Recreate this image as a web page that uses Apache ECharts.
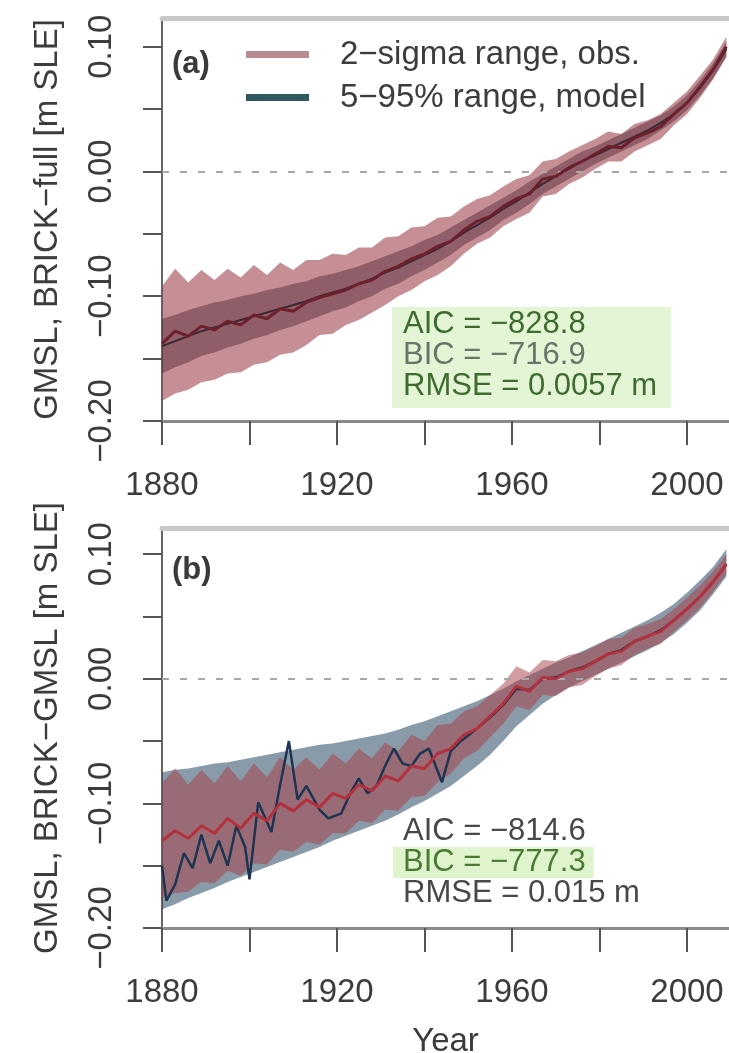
<!DOCTYPE html>
<html>
<head>
<meta charset="utf-8">
<script src="https://cdn.jsdelivr.net/npm/echarts@6/dist/echarts.min.js"></script>
<style>
  html, body { margin: 0; padding: 0; background: #fff; }
  #chart { width: 729px; height: 1053px; }
</style>
</head>
<body>
<div id="chart"></div>
<script>
// years of the observation / band series (3-year steps)
const years = [1880, 1883, 1886, 1889, 1892, 1895, 1898, 1901, 1904, 1907,
  1910, 1913, 1916, 1919, 1922, 1925, 1928, 1931, 1934, 1937,
  1940, 1943, 1946, 1949, 1952, 1955, 1958, 1961, 1964, 1967,
  1970, 1973, 1976, 1979, 1982, 1985, 1988, 1991, 1994, 1997,
  2000, 2003, 2006, 2009];

// panel (a): GMSL obs and BRICK-full model
const obsA = [-0.138, -0.128, -0.132, -0.124, -0.127, -0.120, -0.123, -0.115, -0.118, -0.110,
  -0.112, -0.105, -0.101, -0.098, -0.095, -0.090, -0.087, -0.080, -0.076, -0.070,
  -0.066, -0.060, -0.056, -0.047, -0.040, -0.036, -0.028, -0.022, -0.018, -0.006,
  -0.004, 0.003, 0.008, 0.014, 0.020, 0.019, 0.027, 0.031, 0.036, 0.046,
  0.055, 0.068, 0.082, 0.100];
const obsSigma = [0.046, 0.050, 0.043, 0.045, 0.040, 0.042, 0.038, 0.040, 0.035, 0.037,
  0.033, 0.034, 0.030, 0.032, 0.028, 0.029, 0.026, 0.027, 0.024, 0.025,
  0.022, 0.023, 0.020, 0.019, 0.018, 0.017, 0.016, 0.016, 0.015, 0.014,
  0.014, 0.013, 0.013, 0.012, 0.012, 0.011, 0.011, 0.010, 0.010, 0.009,
  0.009, 0.009, 0.008, 0.008];
const modelA = [-0.140, -0.136, -0.132, -0.128, -0.125, -0.122, -0.119, -0.116, -0.113, -0.110,
  -0.107, -0.104, -0.100, -0.097, -0.094, -0.090, -0.086, -0.081, -0.077, -0.072,
  -0.067, -0.062, -0.056, -0.049, -0.043, -0.037, -0.030, -0.024, -0.017, -0.010,
  -0.004, 0.002, 0.008, 0.013, 0.018, 0.023, 0.028, 0.033, 0.039, 0.046,
  0.055, 0.067, 0.081, 0.098];
const modelAHalf = [0.022, 0.021, 0.021, 0.020, 0.020, 0.019, 0.019, 0.018, 0.018, 0.017,
  0.017, 0.016, 0.016, 0.015, 0.015, 0.014, 0.014, 0.013, 0.013, 0.012,
  0.012, 0.011, 0.011, 0.010, 0.010, 0.010, 0.009, 0.009, 0.009, 0.008,
  0.008, 0.008, 0.008, 0.007, 0.007, 0.007, 0.007, 0.007, 0.006, 0.006,
  0.006, 0.006, 0.006, 0.006];

// panel (b): GMSL obs and BRICK-GMSL model
const obsB = [-0.130, -0.122, -0.128, -0.118, -0.124, -0.112, -0.120, -0.108, -0.114, -0.100,
  -0.106, -0.097, -0.103, -0.092, -0.096, -0.085, -0.090, -0.078, -0.082, -0.070,
  -0.072, -0.060, -0.056, -0.045, -0.040, -0.030, -0.020, -0.006, -0.010, 0.001,
  0.000, 0.006, 0.008, 0.014, 0.020, 0.022, 0.030, 0.034, 0.038, 0.047,
  0.056, 0.066, 0.078, 0.092];
const modelB = [-0.130, -0.127, -0.124, -0.121, -0.118, -0.115, -0.112, -0.109, -0.106, -0.103,
  -0.100, -0.097, -0.094, -0.091, -0.088, -0.085, -0.082, -0.079, -0.075, -0.070,
  -0.066, -0.061, -0.056, -0.050, -0.044, -0.037, -0.029, -0.020, -0.013, -0.006,
  0.000, 0.005, 0.010, 0.015, 0.020, 0.025, 0.030, 0.035, 0.041, 0.048,
  0.057, 0.067, 0.079, 0.093];
const modelBHalf = [0.055, 0.054, 0.052, 0.051, 0.050, 0.048, 0.047, 0.046, 0.045, 0.044,
  0.043, 0.042, 0.041, 0.039, 0.038, 0.037, 0.036, 0.035, 0.034, 0.033,
  0.032, 0.031, 0.030, 0.028, 0.026, 0.024, 0.021, 0.018, 0.016, 0.014,
  0.013, 0.012, 0.012, 0.012, 0.012, 0.012, 0.012, 0.012, 0.012, 0.012,
  0.012, 0.012, 0.011, 0.011];
const modelBYears = [1880, 1881, 1883, 1885, 1887, 1889, 1891, 1893, 1895, 1897,
  1899, 1900, 1902, 1905, 1907, 1909, 1911, 1913, 1916, 1918,
  1921, 1923, 1925, 1927, 1929, 1931, 1933, 1935, 1937, 1939,
  1941, 1944, 1946, 1948, 1952, 1955, 1958, 1961, 1964, 1967,
  1970, 1973, 1976, 1979, 1982, 1985, 1988, 1991, 1994, 1997,
  2000, 2003, 2006, 2009];
const modelBLine = [-0.150, -0.178, -0.165, -0.140, -0.152, -0.125, -0.148, -0.130, -0.150, -0.118,
  -0.135, -0.161, -0.099, -0.123, -0.085, -0.050, -0.097, -0.086, -0.105, -0.112,
  -0.108, -0.092, -0.080, -0.092, -0.086, -0.070, -0.056, -0.068, -0.070, -0.060,
  -0.056, -0.083, -0.058, -0.051, -0.040, -0.031, -0.021, -0.008, -0.009, 0.000,
  0.001, 0.006, 0.009, 0.014, 0.020, 0.023, 0.030, 0.034, 0.039, 0.047,
  0.056, 0.066, 0.078, 0.092];

// axis ticks
const yTicks = [-0.2, -0.15, -0.1, -0.05, 0, 0.05, 0.1];
const yLabels = [-0.2, -0.1, 0, 0.1];
const xTicks = [1880, 1900, 1920, 1940, 1960, 1980, 2000];
const xLabels = [1880, 1920, 1960, 2000];

const FONT = '"Liberation Sans", Arial, sans-serif';
const TXT = '#3c3c3c';
const X_MIN = 1880;
const X_MAX = 2009.6;

const chart = echarts.init(document.getElementById('chart'));

function pairs(xs, ys) {
  return xs.map((x, i) => [x, ys[i]]);
}

/* band polygon through the axis scales */
function band(name, gi, center, half, fill, z) {
  const data = years.map((yr, i) => [yr, center[i] - half[i], center[i] + half[i]]);
  return {
    type: 'custom',
    name,
    xAxisIndex: gi * 2,
    yAxisIndex: gi,
    z,
    silent: true,
    encode: { x: 0, y: [1, 2] },
    data,
    renderItem(params, api) {
      if (params.dataIndex !== 0) return null;
      const top = data.map((d) => api.coord([d[0], d[2]]));
      const bottom = data.map((d) => api.coord([d[0], d[1]])).reverse();
      return {
        type: 'polygon',
        shape: { points: top.concat(bottom) },
        style: { fill },
      };
    },
  };
}

function line(gi, data, color, width, z, withZero) {
  const s = {
    type: 'line',
    xAxisIndex: gi * 2,
    yAxisIndex: gi,
    data,
    z,
    silent: true,
    showSymbol: false,
    lineStyle: { color, width },
  };
  if (withZero) {
    s.markLine = {
      silent: true,
      symbol: 'none',
      label: { show: false },
      lineStyle: { color: '#a8a8a8', type: [7, 11], width: 2 },
      data: [{ yAxis: 0 }],
    };
  }
  return s;
}

function xAxes(gi, withName) {
  return [
    {
      type: 'value',
      gridIndex: gi,
      min: X_MIN,
      max: X_MAX,
      position: 'bottom',
      name: withName ? 'Year' : '',
      nameLocation: 'middle',
      nameGap: 97,
      nameTextStyle: { fontFamily: FONT, fontSize: 33, color: TXT },
      axisLine: { onZero: false, lineStyle: { color: '#8a8a8a', width: 3 } },
      axisTick: { customValues: xTicks, length: 24, lineStyle: { color: '#555', width: 2 } },
      axisLabel: {
        customValues: xLabels,
        margin: 48,
        fontFamily: FONT,
        fontSize: 33,
        color: TXT,
        formatter: (v) => String(v),
      },
      splitLine: { show: false },
    },
    {
      type: 'value',
      gridIndex: gi,
      min: X_MIN,
      max: X_MAX,
      position: 'top',
      axisLine: { onZero: false, lineStyle: { color: '#c8c8c8', width: 5 } },
      axisTick: { show: false },
      axisLabel: { show: false },
      splitLine: { show: false },
    },
  ];
}

function yAxis(gi, max, name) {
  return {
    type: 'value',
    gridIndex: gi,
    min: -0.2,
    max,
    name,
    nameLocation: 'middle',
    nameGap: 98,
    nameTextStyle: { fontFamily: FONT, fontSize: 33, color: TXT },
    axisLine: { onZero: false, lineStyle: { color: '#666', width: 2 } },
    axisTick: { customValues: yTicks, length: 19, lineStyle: { color: '#555', width: 2 } },
    axisLabel: {
      customValues: yLabels,
      rotate: 90,
      margin: 44,
      fontFamily: FONT,
      fontSize: 33,
      color: TXT,
      formatter: (v) => (v < -1e-9 ? '\u2212' : '') + Math.abs(v).toFixed(2),
    },
    splitLine: { show: false },
  };
}

const OBS_FILL = 'rgba(155, 62, 72, 0.58)';
const MOD_FILL_A = 'rgba(80, 35, 50, 0.45)';
const MOD_FILL_B = 'rgba(40, 72, 98, 0.55)';

chart.setOption({
  animation: false,
  textStyle: { fontFamily: FONT },
  grid: [
    { left: 162, right: 0, top: 18, height: 403, outerBoundsMode: 'none' },
    { left: 162, right: 0, top: 528, height: 400, outerBoundsMode: 'none' },
  ],
  xAxis: [...xAxes(0, false), ...xAxes(1, true)],
  yAxis: [
    yAxis(0, 0.123, 'GMSL, BRICK\u2212full [m SLE]'),
    yAxis(1, 0.121, 'GMSL, BRICK\u2212GMSL [m SLE]'),
  ],
  legend: {
    left: 241,
    top: 33,
    orient: 'vertical',
    icon: 'rect',
    itemWidth: 63,
    itemHeight: 7,
    itemGap: 10,
    selectedMode: false,
    formatter: (name) => '{gap|}' + name,
    textStyle: {
      fontFamily: FONT,
      fontSize: 33,
      lineHeight: 33,
      color: TXT,
      rich: { gap: { width: 26 } },
    },
    data: [
      { name: '2\u2212sigma range, obs.', itemStyle: { color: '#b88c90' } },
      { name: '5\u221295% range, model', itemStyle: { color: '#2e5a5e' } },
    ],
  },
  graphic: [
    {
      type: 'text',
      x: 172,
      y: 49,
      style: { text: '(a)', fontFamily: FONT, fontSize: 31, fontWeight: 'bold', fill: '#3a3a3a' },
    },
    {
      type: 'text',
      x: 172,
      y: 555,
      style: { text: '(b)', fontFamily: FONT, fontSize: 31, fontWeight: 'bold', fill: '#3a3a3a' },
    },
    {
      type: 'text',
      x: 392,
      y: 307,
      z: 50,
      style: {
        text: '{g|AIC = \u2212828.8}\n{k|BIC = \u2212716.9}\n{g|RMSE = 0.0057 m}',
        fontFamily: FONT,
        fontSize: 31,
        lineHeight: 31,
        backgroundColor: '#e3f5d4',
        padding: [2, 14, 6, 11],
        rich: {
          g: { fill: '#3f6a30', fontSize: 31, lineHeight: 31, fontFamily: FONT },
          k: { fill: '#68766a', fontSize: 31, lineHeight: 31, fontFamily: FONT },
        },
      },
    },
    {
      type: 'text',
      x: 393,
      y: 816,
      z: 50,
      style: {
        text: '{k|AIC = \u2212814.6}\n{b|BIC = \u2212777.3}\n{k|RMSE = 0.015 m}',
        fontFamily: FONT,
        fontSize: 31,
        lineHeight: 31,
        rich: {
          k: { fill: '#484848', fontSize: 31, lineHeight: 31, fontFamily: FONT, padding: [0, 0, 0, 10] },
          b: {
            fill: '#4b7a32',
            fontSize: 31,
            lineHeight: 31,
            fontFamily: FONT,
            backgroundColor: '#dff3cd',
            padding: [0, 8, 0, 10],
          },
        },
      },
    },
  ],
  series: [
    /* (a) */
    band('2\u2212sigma range, obs.', 0, obsA, obsSigma, OBS_FILL, 2),
    band('5\u221295% range, model', 0, modelA, modelAHalf, MOD_FILL_A, 3),
    line(0, pairs(years, modelA), '#3a2a34', 2, 4, false),
    line(0, pairs(years, obsA), '#6e1f2c', 3, 5, true),
    /* (b) */
    band('model band b', 1, modelB, modelBHalf, MOD_FILL_B, 2),
    band('obs band b', 1, obsB, obsSigma, 'rgba(170, 60, 70, 0.5)', 3),
    line(1, pairs(modelBYears, modelBLine), '#1d3550', 2.5, 4, false),
    line(1, pairs(years, obsB), '#b3303d', 3, 5, true),
  ],
});
</script>
</body>
</html>
